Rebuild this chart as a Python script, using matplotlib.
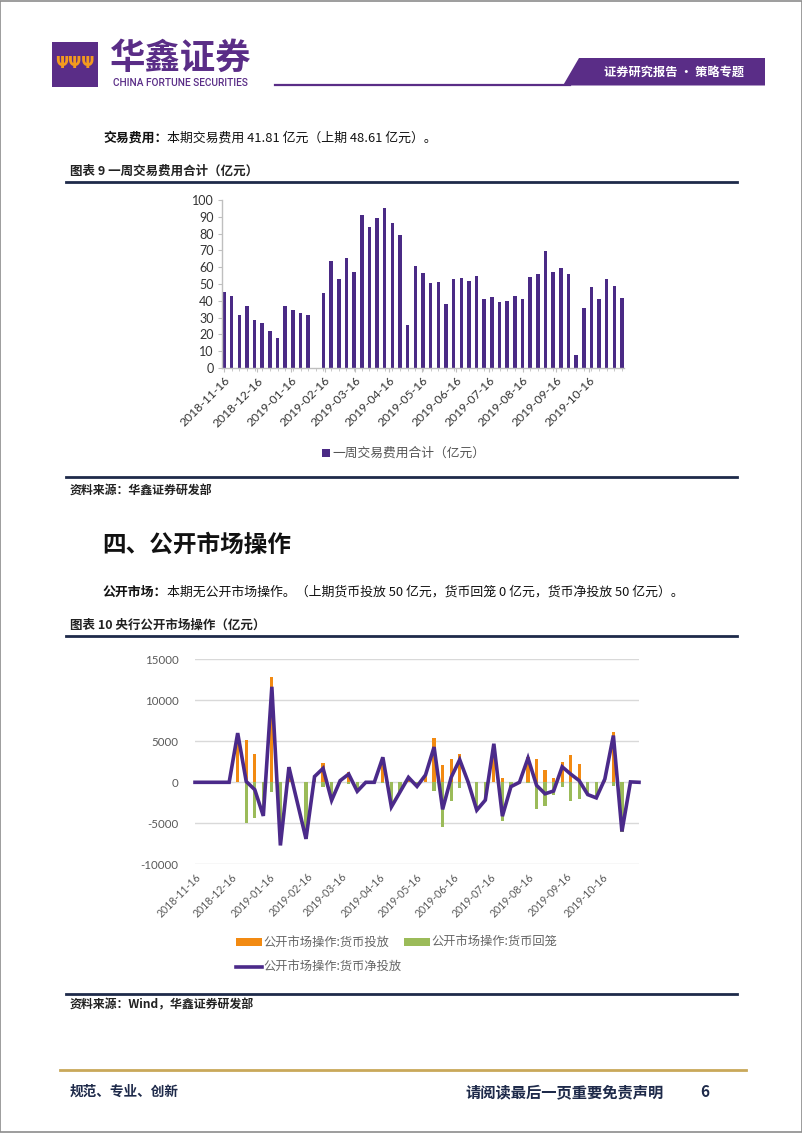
import matplotlib
matplotlib.use('Agg')
import matplotlib.pyplot as plt
import matplotlib.dates as mdates
from matplotlib.patches import Rectangle, Polygon
from matplotlib.lines import Line2D
import numpy as np
import pandas as pd

W, H = 802, 1133
CJK = ['Noto Sans CJK SC', 'DejaVu Sans']
plt.rcParams['font.family'] = CJK
plt.rcParams['axes.unicode_minus'] = False

# ---------------- data ----------------
week_start = '2018-11-16'
n_weeks = 53
# weekly trading fees (亿元); week of 2019-02-08 (Spring Festival) has no data
fee = [45.3, 42.8, 31.7, 36.8, 28.5, 26.5, 22.0, 17.6, 36.8, 34.5, 32.9, 31.3, None,
       44.6, 63.8, 53.1, 65.7, 57.2, 90.9, 83.8, 89.5, 95.4, 86.3, 79.0, 25.7, 61.0,
       56.4, 50.7, 51.1, 38.2, 52.7, 53.5, 51.7, 55.0, 41.2, 42.0, 39.2, 39.6, 43.0,
       41.2, 53.9, 56.2, 69.5, 57.2, 59.6, 55.8, 7.7, 35.8, 48.5, 41.2, 53.1, 48.61, 41.81]

# open market operations (亿元)
inject = [0, 0, 0, 0, 0, 6000, 5100, 3500, 0, 12850, 0, 1850, None,
          0, 700, 2300, 0, 200, 1250, 0, 0, 0, 3100, 0, 0, 600,
          0, 900, 5400, 2100, 2850, 3500, 0, 0, 0, 4700, 570, 0, 0,
          3050, 2830, 1500, 500, 2420, 3300, 2200, 0, 0, 400, 6100, 0, 50, 0]
withdraw = [0, 0, 0, 0, 0, 0, 5000, 4400, 4100, 1200, 7700, 0, None,
            6900, 0, 600, 2200, 0, 250, 1100, 0, 0, 50, 3000, 1200, 0,
            500, 0, 1100, 5400, 2250, 740, 0, 3400, 2170, 0, 4700, 530, 0,
            100, 3200, 2900, 1560, 530, 2300, 2000, 1500, 1900, 0, 400, 6000, 0, 0]
net = [0, 0, 0, 0, 0, 6000, 100, -900, -4100, 11650, -7700, 1850, None,
       -6900, 700, 1700, -2200, 200, 1000, -1100, 0, 0, 3050, -3000, -1200, 600,
       -500, 900, 4300, -3300, 600, 2760, 0, -3400, -2170, 4700, -4130, -530, 0,
       2950, -370, -1400, -1060, 1890, 1000, 200, -1500, -1900, 400, 5700, -6000, 50, 0]

tick_labels = ['2018-11-16', '2018-12-16', '2019-01-16', '2019-02-16', '2019-03-16',
               '2019-04-16', '2019-05-16', '2019-06-16', '2019-07-16', '2019-08-16',
               '2019-09-16', '2019-10-16']

fee_y_ticks = list(range(0, 101, 10))
omo_y_ticks = [-10000, -5000, 0, 5000, 10000, 15000]

# ---------------- helpers ----------------
dates = pd.date_range(week_start, periods=n_weeks, freq='7D')
tick_dates = pd.to_datetime(tick_labels)

fig = plt.figure(figsize=(W / 100, H / 100), dpi=100)


def fx(x):
    return x / W


def fy(y):
    return 1 - y / H


def rect(l, t, r, b):
    return [l / W, 1 - b / H, (r - l) / W, (b - t) / H]


def text(x, y, s, **kw):
    kw.setdefault('family', CJK)
    return fig.text(fx(x), fy(y), s, **kw)


def hline(x0, x1, y, color, lw):
    fig.add_artist(Line2D([fx(x0), fx(x1)], [fy(y), fy(y)], color=color, lw=lw,
                          transform=fig.transFigure))


def two_part(x, y, bold, rest, size):
    t1 = text(x, y, bold, fontsize=size, fontweight='bold', va='center', color='#111111')
    fig.canvas.draw()
    bb = t1.get_window_extent()
    text(bb.x1, y, rest, fontsize=size, va='center', color='#111111')


PURPLE = '#5A2D87'
NAVY = '#1E2A4A'

# page border
fig.add_artist(Rectangle((0.0005, 0.0005), 0.999, 0.999, transform=fig.transFigure,
                         fill=False, edgecolor='#8c8c8c', lw=1.2))

# ---------------- header ----------------
fig.add_artist(Rectangle((fx(52), fy(87)), (98 - 52) / W, (87 - 42) / H,
                         transform=fig.transFigure, color=PURPLE, lw=0))
text(75, 64, 'ΨΨΨ', fontsize=11, fontweight='bold', color='#F39A1E', ha='center', va='center',
     family=['DejaVu Sans'])
text(110, 58, '华鑫证券', fontsize=25.5, fontweight='bold', color=PURPLE, va='center')
text(113, 83, 'CHINA FORTUNE SECURITIES', fontsize=7.3, color=PURPLE, va='center',
     family=['Roboto', 'DejaVu Sans'], fontweight='medium')
hline(275, 570, 84.5, PURPLE, 1.6)
fig.add_artist(Polygon([[fx(563), fy(85.5)], [fx(579), fy(58)], [fx(765), fy(58)], [fx(765), fy(85.5)]],
                       closed=True, transform=fig.transFigure, color=PURPLE, lw=0))
text(674, 72, '证券研究报告 • 策略专题', fontsize=8.8, fontweight='bold', color='white',
     ha='center', va='center')

# ---------------- section 1 ----------------
two_part(103, 138, '交易费用：', '本期交易费用 41.81 亿元（上期 48.61 亿元）。', 9.3)
text(70, 171, '图表 9 一周交易费用合计（亿元）', fontsize=9, fontweight='bold', color='#222222', va='center')
hline(66, 737, 181.5, NAVY, 2.0)

ax1 = fig.add_axes(rect(222, 200, 624, 368))
fd = [d for d, v in zip(dates, fee) if v is not None]
fv = [v for v in fee if v is not None]
ax1.bar(fd, fv, width=3.2, color='#4A2A85', zorder=2)
ax1.set_ylim(0, 100)
ax1.set_yticks(fee_y_ticks)
ax1.set_xlim(dates[0] - pd.Timedelta(days=1.8), dates[-1] + pd.Timedelta(days=1.8))
ax1.set_xticks(tick_dates)
ax1.set_xticklabels(tick_labels, rotation=45, ha='right', va='top', rotation_mode='anchor')
ax1.set_xticks(dates, minor=True)
for s in ['top', 'right']:
    ax1.spines[s].set_visible(False)
for s in ['left', 'bottom']:
    ax1.spines[s].set_color('#BFBFBF')
    ax1.spines[s].set_linewidth(1.0)
ax1.tick_params(axis='y', length=3, color='#BFBFBF', labelsize=9, labelcolor='#333333', pad=3)
ax1.tick_params(axis='x', which='major', length=3, color='#BFBFBF', labelsize=8.7,
                labelcolor='#333333', pad=2)
ax1.tick_params(axis='x', which='minor', length=2, color='#BFBFBF')
for lab in ax1.get_yticklabels() + ax1.get_xticklabels():
    lab.set_family(['Lato', 'DejaVu Sans'])

# legend 1
fig.add_artist(Rectangle((fx(322), fy(457)), 8 / W, 8 / H, transform=fig.transFigure,
                         color='#4A2A85', lw=0))
text(332, 453, '一周交易费用合计（亿元）', fontsize=9.2, color='#555555', va='center')

hline(66, 737, 477.5, NAVY, 2.0)
text(70, 490, '资料来源：华鑫证券研发部', fontsize=8.6, fontweight='bold', color='#222222', va='center')

# ---------------- section 2 ----------------
text(102, 545, '四、公开市场操作', fontsize=17, fontweight='bold', color='#111111', va='center')
two_part(103, 592, '公开市场：',
         '本期无公开市场操作。（上期货币投放 50 亿元，货币回笼 0 亿元，货币净投放 50 亿元）。', 9.3)
text(70, 625, '图表 10 央行公开市场操作（亿元）', fontsize=9, fontweight='bold', color='#222222', va='center')
hline(66, 737, 635.5, NAVY, 2.0)

ax2 = fig.add_axes(rect(195, 659.3, 639, 864.3))
ORANGE = '#F28A12'
GREEN = '#9BBB59'
LINE = '#4B2A8A'
bd = [d for d, v in zip(dates, inject) if v is not None]
iv = [v for v in inject if v is not None]
wv = [-v for v in withdraw if v is not None]
ax2.bar(bd, iv, width=2.6, color=ORANGE, zorder=2)
ax2.bar(bd, wv, width=2.6, color=GREEN, zorder=2)
nd = [d for d, v in zip(dates, net) if v is not None]
nv = [v for v in net if v is not None]
ax2.plot(nd, nv, color=LINE, lw=2.6, zorder=3, clip_on=False, solid_joinstyle='miter')
ax2.set_ylim(-10000, 15000)
ax2.set_yticks(omo_y_ticks)
ax2.set_xlim(dates[0], dates[-1])
ax2.set_xticks(tick_dates)
ax2.set_xticklabels(tick_labels, rotation=45, ha='right', va='top', rotation_mode='anchor')
for s in ax2.spines.values():
    s.set_visible(False)
ax2.grid(axis='y', color='#D9D9D9', lw=1.0, zorder=0)
ax2.set_axisbelow(True)
ax2.tick_params(axis='y', length=0, labelsize=8.3, labelcolor='#595959', pad=12)
ax2.tick_params(axis='x', length=0, labelsize=7.6, labelcolor='#595959', pad=5)
for lab in ax2.get_yticklabels() + ax2.get_xticklabels():
    lab.set_family(['Lato', 'DejaVu Sans'])

# legend 2
fig.add_artist(Rectangle((fx(236), fy(946)), 26 / W, 8 / H, transform=fig.transFigure,
                         color=ORANGE, lw=0))
text(263, 942, '公开市场操作:货币投放', fontsize=8.8, color='#666666', va='center')
fig.add_artist(Rectangle((fx(404), fy(946)), 26 / W, 8 / H, transform=fig.transFigure,
                         color=GREEN, lw=0))
text(431, 942, '公开市场操作:货币回笼', fontsize=8.8, color='#666666', va='center')
fig.add_artist(Line2D([fx(236), fx(262)], [fy(967), fy(967)], color=LINE, lw=2.6,
                      transform=fig.transFigure))
text(263, 966, '公开市场操作:货币净投放', fontsize=8.8, color='#666666', va='center')

hline(66, 737, 993.5, NAVY, 2.0)
text(70, 1005, '资料来源：Wind，华鑫证券研发部', fontsize=8.6, fontweight='bold', color='#222222',
     va='center')

# ---------------- footer ----------------
hline(60, 746, 1070, '#C9A85A', 2.0)
text(70, 1092, '规范、专业、创新', fontsize=9.8, fontweight='bold', color='#1E2A4A', va='center')
text(465, 1092, '请阅读最后一页重要免责声明', fontsize=11, fontweight='bold', color='#1E2A4A', va='center')
text(700, 1092, '6', fontsize=11, fontweight='bold', color='#1E2A4A', va='center')

fig.savefig('out.png', dpi=100)
